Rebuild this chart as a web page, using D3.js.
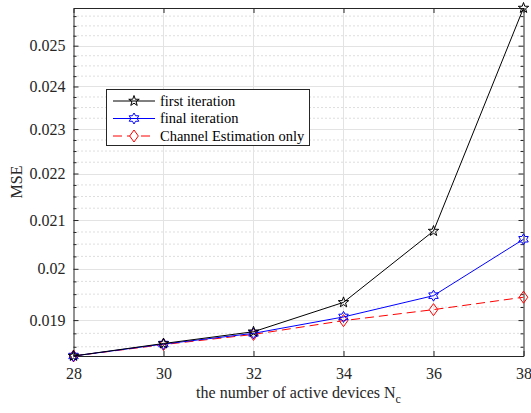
<!DOCTYPE html>
<html>
<head>
<meta charset="utf-8">
<script src="https://cdn.jsdelivr.net/npm/d3@7"></script>
<style>
  body { margin: 0; background: #fff; }
  svg { display: block; font-family: "Liberation Serif", "Times New Roman", serif; }
</style>
</head>
<body>
<div id="app"></div>
<script>
// data
const devices = [28, 30, 32, 34, 36, 38];
const firstIter = [0.01833, 0.01856, 0.01878, 0.01934, 0.02077, 0.02596];
const finalIter = [0.01833, 0.01855, 0.01875, 0.01906, 0.01947, 0.02060];
const chanOnly = [0.01833, 0.01854, 0.01873, 0.01899, 0.01920, 0.01944];
const yTicks = [0.019, 0.02, 0.021, 0.022, 0.023, 0.024, 0.025];
const yTickLabels = ['0.019', '0.02', '0.021', '0.022', '0.023', '0.024', '0.025'];
const seriesNames = ['first iteration', 'final iteration', 'Channel Estimation only'];

const width = 531, height = 413;
const margin = { top: 8, right: 7.5, bottom: 57, left: 73.5 };

const svg = d3.create('svg').attr('width', width).attr('height', height);

const x = d3.scaleLinear().domain([28, 38]).range([margin.left, width - margin.right]);
const y = d3.scaleLog().domain([0.01833, 0.02596]).range([height - margin.bottom, margin.top]);

const x0 = x.range()[0], x1 = x.range()[1], y0 = y.range()[0], y1 = y.range()[1];

// minor y values every 0.00025
let minorY = [];
for (let k = 72; k <= 104; k++) {
	const v = k * 0.00025;
	if (k % 4 === 0) continue;
	if (v >= y.domain()[0] && v <= y.domain()[1]) minorY.push(v);
}

const grid = svg.append('g');
grid.selectAll('line.minor').data(minorY).join('line')
	.attr('x1', x0).attr('x2', x1)
	.attr('y1', d => y(d)).attr('y2', d => y(d))
	.attr('stroke', '#bcbcbc').attr('stroke-width', 1).attr('stroke-dasharray', '1,3');
grid.selectAll('line.hmaj').data(yTicks).join('line')
	.attr('x1', x0).attr('x2', x1)
	.attr('y1', d => Math.round(y(d)) + 0.5).attr('y2', d => Math.round(y(d)) + 0.5)
	.attr('stroke', '#e3e3e3').attr('stroke-width', 1);
grid.selectAll('line.vmaj').data(devices.slice(1, -1)).join('line')
	.attr('x1', d => x(d)).attr('x2', d => x(d))
	.attr('y1', y0).attr('y2', y1)
	.attr('stroke', '#e3e3e3').attr('stroke-width', 1);

// axes with inward ticks
const axisColor = '#262626';
const yFmt = d => yTickLabels[yTicks.indexOf(d)];
const gl = svg.append('g').attr('transform', `translate(${x0},0)`)
	.call(d3.axisLeft(y).tickValues(yTicks).tickFormat(yFmt).tickSizeInner(-5).tickSizeOuter(0).tickPadding(8));
const glm = svg.append('g').attr('transform', `translate(${x0},0)`)
	.call(d3.axisLeft(y).tickValues(minorY).tickFormat('').tickSizeInner(-3).tickSizeOuter(0));
const gr = svg.append('g').attr('transform', `translate(${x1},0)`)
	.call(d3.axisRight(y).tickValues(yTicks).tickFormat('').tickSizeInner(-5).tickSizeOuter(0));
const grm = svg.append('g').attr('transform', `translate(${x1},0)`)
	.call(d3.axisRight(y).tickValues(minorY).tickFormat('').tickSizeInner(-3).tickSizeOuter(0));
const gb = svg.append('g').attr('transform', `translate(0,${y0})`)
	.call(d3.axisBottom(x).tickValues(devices).tickSizeInner(-5).tickSizeOuter(0).tickPadding(12));
const gt = svg.append('g').attr('transform', `translate(0,${y1})`)
	.call(d3.axisTop(x).tickValues(devices).tickFormat('').tickSizeInner(-5).tickSizeOuter(0));

[gl, glm, gr, grm, gb, gt].forEach(g => {
	g.selectAll('.domain').attr('stroke', axisColor);
	g.selectAll('line').attr('stroke', axisColor);
	g.selectAll('text').attr('fill', '#262626').style('font-size', '16px')
		.style('font-family', '"Liberation Serif", serif');
});
[glm, grm].forEach(g => g.select('.domain').remove());

// axis labels
const xl = svg.append('text')
	.attr('x', (x0 + x1) / 2).attr('y', 398)
	.attr('text-anchor', 'middle').attr('fill', '#262626').style('font-size', '16px');
xl.append('tspan').text('the number of active devices N');
xl.append('tspan').attr('dy', 5).style('font-size', '12px').text('c');

svg.append('text')
	.attr('transform', `translate(22,${(y0 + y1) / 2}) rotate(-90)`)
	.attr('text-anchor', 'middle').attr('fill', '#262626').style('font-size', '16px')
	.text('MSE');

// markers
function hexagram(r) {
	const pts = [];
	for (let i = 0; i < 12; i++) {
		const a = -Math.PI / 2 + i * Math.PI / 6;
		const rr = i % 2 === 0 ? r : r * 0.577;
		pts.push([rr * Math.cos(a), rr * Math.sin(a)]);
	}
	return 'M' + pts.map(p => p.join(',')).join('L') + 'Z';
}
function pentagram(r) {
	const pts = [];
	for (let i = 0; i < 10; i++) {
		const a = -Math.PI / 2 + i * Math.PI / 5;
		const rr = i % 2 === 0 ? r : r * 0.4;
		pts.push([rr * Math.cos(a), rr * Math.sin(a)]);
	}
	return 'M' + pts.map(p => p.join(',')).join('L') + 'Z';
}
function diamond(r) {
	return `M0,${-r}L${r * 0.72},0L0,${r}L${-r * 0.72},0Z`;
}

const series = [
	{ name: seriesNames[0], values: firstIter, color: '#000000', dash: null, marker: pentagram(5.5) },
	{ name: seriesNames[1], values: finalIter, color: '#0000ff', dash: null, marker: hexagram(5.5) },
	{ name: seriesNames[2], values: chanOnly, color: '#ff0000', dash: '9,5', marker: diamond(6) }
];

const line = d3.line().x((d, i) => x(devices[i])).y(d => y(d));
const plot = svg.append('g');
series.slice().reverse().forEach(s => {
	plot.append('path').datum(s.values)
		.attr('d', line).attr('fill', 'none')
		.attr('stroke', s.color).attr('stroke-width', 1)
		.attr('stroke-dasharray', s.dash);
	plot.selectAll(null).data(s.values).join('path')
		.attr('transform', (d, i) => `translate(${x(devices[i])},${y(d)})`)
		.attr('d', s.marker).attr('fill', 'none')
		.attr('stroke', s.color).attr('stroke-width', 1);
});

// legend
const legend = svg.append('g');
legend.append('rect')
	.attr('x', 106.5).attr('y', 89.5).attr('width', 203).attr('height', 56)
	.attr('fill', '#fff').attr('stroke', axisColor).attr('stroke-width', 1);
series.forEach((s, i) => {
	const ly = 101 + i * 17.5;
	legend.append('line')
		.attr('x1', 113).attr('x2', 155).attr('y1', ly).attr('y2', ly)
		.attr('stroke', s.color).attr('stroke-width', 1)
		.attr('stroke-dasharray', s.dash);
	legend.append('path')
		.attr('transform', `translate(134,${ly})`)
		.attr('d', s.marker).attr('fill', s.dash ? '#fff' : 'none')
		.attr('stroke', s.color).attr('stroke-width', 1);
	legend.append('text')
		.attr('x', 160).attr('y', ly).attr('dy', '0.33em')
		.attr('fill', '#000').style('font-size', '14.5px')
		.text(s.name);
});

document.getElementById('app').append(svg.node());
</script>
</body>
</html>
